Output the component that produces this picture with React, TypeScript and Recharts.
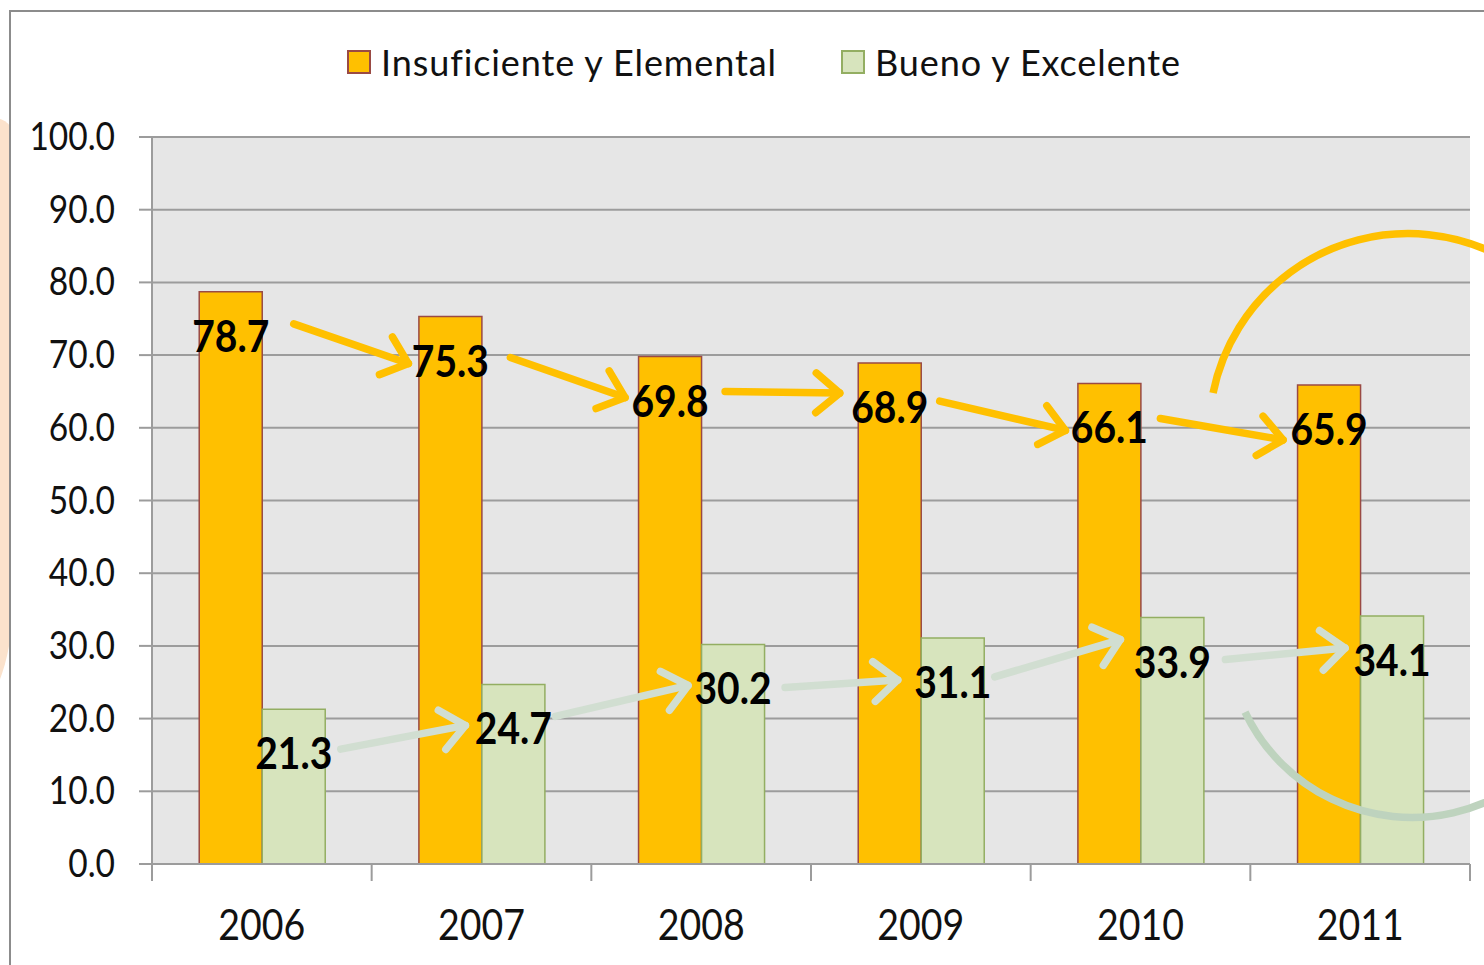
import React from 'react';
import { BarChart, Bar, XAxis, YAxis, CartesianGrid, Legend, LabelList } from 'recharts';

const categories = ['2006', '2007', '2008', '2009', '2010', '2011'];
const insuficienteElemental = [78.7, 75.3, 69.8, 68.9, 66.1, 65.9];
const buenoExcelente = [21.3, 24.7, 30.2, 31.1, 33.9, 34.1];
const yTicks = [0, 10, 20, 30, 40, 50, 60, 70, 80, 90, 100];
const seriesNames = ['Insuficiente y Elemental', 'Bueno y Excelente'];

const data = categories.map((year, i) => ({
  year,
  ins: insuficienteElemental[i],
  bue: buenoExcelente[i],
}));

const W = 1484;
const H = 965;
const M = { top: 137, right: 14, bottom: 0, left: 0 };
const Y_AXIS_W = 152;
const X_AXIS_H = 101;
const PLOT_W = W - M.left - M.right - Y_AXIS_W;
const BAND = PLOT_W / categories.length;
const SY = 1.13;
const FONT = 'Lato, "Open Sans", sans-serif';

const ORANGE = '#FFC000';
const ORANGE_STROKE = '#9A4A44';
const GREEN = '#D7E4BD';
const GREEN_STROKE = '#93AE62';
const GREEN_ARROW = '#D1DED1';
const GREEN_ARC = '#BED3BE';
const AXIS = '#9C9C9C';

// hand-drawn arrow offsets (pixels relative to label centres), styling only
const ARROW_STYLE = {
  ins: {
    sdx: [63, 60, 55, 50, 51],
    sdy: [-13, -4, -10, -7, -10],
    edx: [-42, -45, -50, -44, -46],
    edy: [2, -4, -15, 2, 10],
    color: ORANGE,
  },
  bue: {
    sdx: [47, 42, 52, 42, 53],
    sdy: [-5, -13, -2, -6, -3],
    edx: [-48, -45, -55, -52, -47],
    edy: [-4, -4, -3, -23, -13],
    color: GREEN_ARROW,
  },
};

function Arrow({ x1, y1, x2, y2, color }: any) {
  const ang = Math.atan2(y2 - y1, x2 - x1);
  const len = 31;
  const spread = (40 * Math.PI) / 180;
  const a1 = ang + Math.PI - spread;
  const a2 = ang + Math.PI + spread;
  return (
    <g stroke={color} strokeWidth={7.5} strokeLinecap="round" strokeLinejoin="round" fill="none">
      <line x1={x1} y1={y1} x2={x2} y2={y2} />
      <polyline
        points={`${x2 + len * Math.cos(a1)},${y2 + len * Math.sin(a1)} ${x2},${y2} ${x2 + len * Math.cos(a2)},${y2 + len * Math.sin(a2)}`}
      />
    </g>
  );
}

function makeLabel(values: number[], kind: 'ins' | 'bue') {
  return (props: any) => {
    const x = Number(props.x);
    const y = Number(props.y);
    const width = Number(props.width);
    const height = Number(props.height);
    const index = props.index as number;
    const value = values[index];
    const cx = x + width / 2;
    const base = y + height;
    const ppu = height / value;
    const ly = y + 45;
    const elems: any[] = [];
    if (index > 0) {
      const prevTop = base - values[index - 1] * ppu;
      const prevLy = prevTop + 45;
      const prevCx = cx - BAND;
      const st = ARROW_STYLE[kind];
      const k = index - 1;
      elems.push(
        <Arrow
          key="a"
          x1={prevCx + st.sdx[k]}
          y1={prevLy + st.sdy[k]}
          x2={cx + st.edx[k]}
          y2={ly + st.edy[k]}
          color={st.color}
        />
      );
    }
    if (index === values.length - 1) {
      if (kind === 'ins') {
        const ccx = cx + 79;
        const ccy = ly + 4;
        const r = 199;
        const sx = cx - 116;
        const sy = ly - 37;
        elems.push(
          <path
            key="arc"
            d={`M ${sx} ${sy} A ${r} ${r} 0 0 1 ${ccx + r} ${ccy}`}
            stroke={ORANGE}
            strokeWidth={7.5}
            fill="none"
          />
        );
      } else {
        const ccx = cx + 20;
        const ccy = ly - 29;
        const r = 185;
        const sx = cx - 147;
        const sy = ly + 51;
        elems.push(
          <path
            key="arc"
            d={`M ${sx} ${sy} A ${r} ${r} 0 0 0 ${ccx + r} ${ccy}`}
            stroke={GREEN_ARC}
            strokeWidth={7.5}
            fill="none"
          />
        );
      }
    }
    elems.push(
      <text
        key="t"
        transform={`translate(${cx},${y + 60}) scale(1,${SY})`}
        textAnchor="middle"
        fontFamily={FONT}
        fontWeight={700}
        fontSize={39}
        fill="#000"
      >
        {value.toFixed(1)}
      </text>
    );
    return <g>{elems}</g>;
  };
}

const XTick = (props: any) => {
  const { x, y, payload, index } = props;
  return (
    <g>
      <line x1={x - BAND / 2} x2={x - BAND / 2} y1={y} y2={y + 17} stroke={AXIS} strokeWidth={2} />
      {index === categories.length - 1 && (
        <line x1={x + BAND / 2} x2={x + BAND / 2} y1={y} y2={y + 17} stroke={AXIS} strokeWidth={2} />
      )}
      <text
        transform={`translate(${x},${y + 76}) scale(1,${SY})`}
        textAnchor="middle"
        fontFamily={FONT}
        fontSize={37.5}
        fill="#111"
      >
        {payload.value}
      </text>
    </g>
  );
};

const YTick = (props: any) => {
  const { x, y, payload } = props;
  return (
    <text
      transform={`translate(${x},${y + 13}) scale(1,${SY})`}
      textAnchor="end"
      fontFamily={FONT}
      fontSize={33.5}
      fill="#111"
    >
      {Number(payload.value).toFixed(1)}
    </text>
  );
};

const fills = [ORANGE, GREEN];
const strokes = [ORANGE_STROKE, GREEN_STROKE];

const renderLegend = () => (
  <div
    style={{
      display: 'flex',
      alignItems: 'center',
      fontFamily: FONT,
      fontSize: 36,
      letterSpacing: 0.9,
      color: '#111',
      height: 44,
    }}
  >
    {seriesNames.map((n, i) => (
      <div key={n} style={{ display: 'flex', alignItems: 'center', marginRight: i === 0 ? 64 : 0 }}>
        <span
          style={{
            width: 24,
            height: 24,
            background: fills[i],
            border: `2px solid ${strokes[i]}`,
            boxSizing: 'border-box',
            marginRight: 10,
            display: 'inline-block',
          }}
        />
        <span style={{ display: 'inline-block', whiteSpace: 'nowrap', lineHeight: '44px' }}>{n}</span>
      </div>
    ))}
  </div>
);

export default function App() {
  return (
    <div style={{ position: 'absolute', left: 0, top: 0, width: W, height: H, overflow: 'hidden', background: '#fff' }}>
      <div
        style={{
          position: 'absolute',
          left: -600,
          top: 118,
          width: 614,
          height: 590,
          borderTopRightRadius: '20px',
          borderBottomRightRadius: '40px 120px',
          background: '#FBE2CC',
        }}
      />
      <div
        style={{
          position: 'absolute',
          left: 9,
          top: 10,
          width: W,
          height: H,
          borderTop: '2px solid #8C8C8C',
          borderLeft: '2px solid #8C8C8C',
          background: '#fff',
        }}
      />
      <div style={{ position: 'absolute', left: 0, top: 0 }}>
        <BarChart width={W} height={H} data={data} margin={M} barCategoryGap="21.5%" barGap={0}>
          <CartesianGrid vertical={false} fill="#E6E6E6" fillOpacity={1} stroke={AXIS} strokeWidth={2} />
          <XAxis
            dataKey="year"
            height={X_AXIS_H}
            tickLine={false}
            tickSize={0}
            tickMargin={0}
            axisLine={{ stroke: AXIS, strokeWidth: 2 }}
            tick={<XTick />}
            interval={0}
          />
          <YAxis
            domain={[0, 100]}
            ticks={yTicks}
            width={Y_AXIS_W}
            tickSize={13}
            tickMargin={24}
            interval={0}
            axisLine={{ stroke: AXIS, strokeWidth: 2 }}
            tickLine={{ stroke: AXIS, strokeWidth: 2 }}
            tick={<YTick />}
          />
          <Legend
            layout="horizontal"
            verticalAlign="middle"
            align="center"
            content={renderLegend}
            wrapperStyle={{ position: 'absolute', top: 40, left: 347, width: 1000, height: 44 }}
          />
          <Bar dataKey="ins" name={seriesNames[0]} fill={ORANGE} stroke={ORANGE_STROKE} strokeWidth={1.5} isAnimationActive={false}>
            <LabelList dataKey="ins" content={makeLabel(insuficienteElemental, 'ins')} />
          </Bar>
          <Bar dataKey="bue" name={seriesNames[1]} fill={GREEN} stroke={GREEN_STROKE} strokeWidth={1.5} isAnimationActive={false}>
            <LabelList dataKey="bue" content={makeLabel(buenoExcelente, 'bue')} />
          </Bar>
        </BarChart>
      </div>
    </div>
  );
}
